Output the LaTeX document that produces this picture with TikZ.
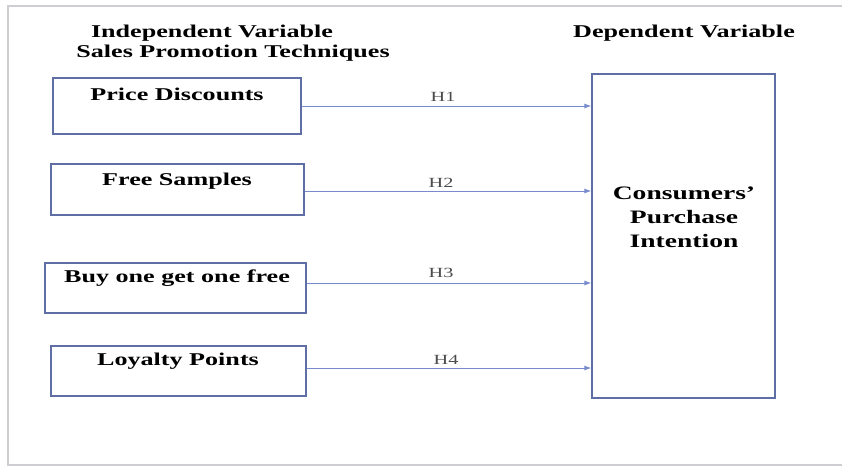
\documentclass[tikz,border=0pt]{standalone}
\usepackage{fontspec}
\setmainfont{Liberation Serif}
\newfontfamily\widefont[FakeStretch=1.45]{Liberation Serif}
\usetikzlibrary{arrows.meta}
\definecolor{boxc}{RGB}{95,110,165}
\definecolor{arrc}{RGB}{120,140,205}
\definecolor{framec}{RGB}{205,205,210}
\tikzset{
  ivbox/.style={draw=boxc, line width=1.2pt, rectangle, inner sep=0pt},
  ivtext/.style={font=\widefont\fontsize{18}{20}\selectfont\bfseries, anchor=center, inner sep=0pt},
  head/.style={font=\widefont\fontsize{18}{20}\selectfont\bfseries, inner sep=0pt},
  hyp/.style={font=\widefont\fontsize{14}{16}\selectfont, text=black!70, inner sep=0pt},
  conn/.style={draw=arrc, line width=0.9pt, -{Latex[length=7pt,width=5pt]}},
}
\begin{document}
\begin{tikzpicture}[x=1pt,y=-1pt]
\useasboundingbox (0,0) rectangle (842,468);
% frame
\coordinate (ftl) at (8,6);
\coordinate (ftr) at (842,6);
\coordinate (fbl) at (8,465);
\coordinate (fbr) at (842,465);
\draw[framec, line width=1.2pt] (ftr) -- (ftl) -- (fbl) -- (fbr);
% headers
\node[head] (h1) at (212,33) {Independent Variable};
\node[head] (h2) at (233,53) {Sales Promotion Techniques};
\node[head] (h3) at (684,33) {Dependent Variable};
% independent boxes
\node[ivbox, minimum width=248pt, minimum height=56pt] (b1) at (177,106) {};
\node[ivbox, minimum width=253pt, minimum height=51pt] (b2) at (177.5,189.5) {};
\node[ivbox, minimum width=261pt, minimum height=50pt] (b3) at (175.5,288) {};
\node[ivbox, minimum width=255pt, minimum height=50pt] (b4) at (178.5,371) {};
\node[ivtext] (t1) at (177,94) {Price Discounts};
\node[ivtext] (t2) at (177,181) {Free Samples};
\node[ivtext] (t3) at (177,278) {Buy one get one free};
\node[ivtext] (t4) at (178,361) {Loyalty Points};
% dependent box
\node[ivbox, minimum width=183pt, minimum height=324pt] (dv) at (683.5,236) {};
\node[ivtext, align=center, font=\widefont\fontsize{19}{24}\selectfont\bfseries] (dvt) at (684,217) {Consumers’\\Purchase\\Intention};
% arrows
\coordinate (e1) at (dv.west |- 0,106);
\coordinate (e2) at (dv.west |- 0,191);
\coordinate (e3) at (dv.west |- 0,283);
\coordinate (e4) at (dv.west |- 0,368);
\draw[conn] (b1.east |- e1) -- (e1);
\draw[conn] (b2.east |- e2) -- (e2);
\draw[conn] (b3.east |- e3) -- (e3);
\draw[conn] (b4.east |- e4) -- (e4);
\node[hyp] (l1) at (443,97) {H1};
\node[hyp] (l2) at (441,183) {H2};
\node[hyp] (l3) at (441,273) {H3};
\node[hyp] (l4) at (446,360) {H4};
\end{tikzpicture}
\end{document}
